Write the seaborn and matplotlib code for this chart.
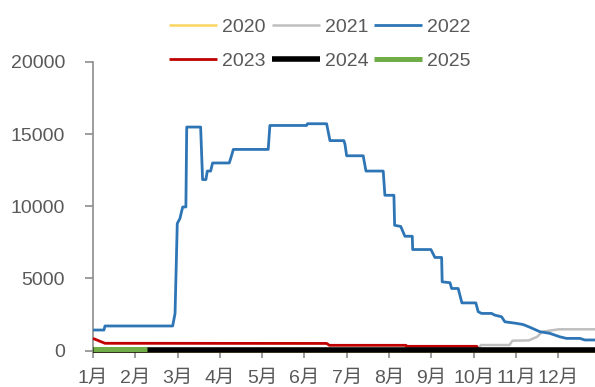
import matplotlib
matplotlib.use("Agg")
import matplotlib.pyplot as plt
import pandas as pd
import seaborn as sns

# x = day of year (0 = 1 Jan), y = value
DAYS_2020 = [0, 361]
VALS_2020 = [0, 0]

DAYS_2021 = [0, 276, 279, 299.5, 301.6, 313.4, 319.4, 323, 335, 361]
VALS_2021 = [0, 0, 380, 380, 680, 700, 950, 1300, 1470, 1470]

DAYS_2022 = [0, 7.9, 8.6, 57.3, 59, 60.6, 62.5, 64.5, 66.8, 67.4, 77.4, 78.8,
             81.2, 82.2, 84.6, 86, 98, 99.7, 100.9, 126, 127.2, 153.6, 154.2,
             168, 170.4, 180.4, 181.2, 182.4, 194.3, 196.3, 208.7, 209.9,
             216.4, 216.9, 221.3, 224.3, 229.6, 229.9, 243, 245.9, 250.7,
             251.1, 256.7, 257.9, 262.6, 265.3, 275.3, 277, 279.4, 286.6, 289,
             293.8, 296.2, 304.6, 309.3, 314.2, 321.4, 328.5, 335.7, 340.5,
             350.1, 353.7, 361]
VALS_2022 = [1420, 1420, 1700, 1700, 2570, 8800, 9150, 9950, 9950, 15490,
             15490, 11850, 11850, 12440, 12440, 13000, 13000, 13530, 13940,
             13940, 15600, 15600, 15720, 15720, 14550, 14550, 14300, 13500,
             13500, 12440, 12440, 10760, 10760, 8680, 8600, 7920, 7920, 7000,
             7000, 6450, 6450, 4760, 4700, 4300, 4300, 3300, 3300, 2690, 2570,
             2570, 2450, 2340, 1990, 1880, 1800, 1610, 1300, 1190, 950, 840,
             840, 730, 730]

DAYS_2023 = [0, 4, 8.6, 168, 170, 225, 225.6, 276, 277, 361]
VALS_2023 = [840, 680, 500, 490, 360, 360, 290, 290, 0, 0]

DAYS_2024 = [0, 361]
VALS_2024 = [60, 60]

DAYS_2025 = [0, 38.6]
VALS_2025 = [110, 110]

MONTH_LABELS = [f"{m}月" for m in range(1, 13)]

SERIES = [
    ("2020", DAYS_2020, VALS_2020, "#F9D461", 1.8),
    ("2021", DAYS_2021, VALS_2021, "#BFBFBF", 1.8),
    ("2022", DAYS_2022, VALS_2022, "#2E75B6", 2.0),
    ("2023", DAYS_2023, VALS_2023, "#C00000", 2.0),
    ("2024", DAYS_2024, VALS_2024, "#000000", 4.0),
    ("2025", DAYS_2025, VALS_2025, "#70AD47", 3.6),
]

sns.set_style("white")
plt.rcParams["font.family"] = ["Liberation Sans", "Noto Sans CJK SC", "DejaVu Sans"]
TEXT = "#595959"
AXIS = "#8C8C8C"

fig = plt.figure(figsize=(5.95, 3.87), dpi=100)
ax = fig.add_axes([0.1563, 0.0943, 1.0 - 0.1563, 0.7455])

for name, days, vals, color, lw in SERIES:
    df = pd.DataFrame({"day": days, "value": vals})
    sns.lineplot(data=df, x="day", y="value", color=color, linewidth=lw,
                 label=name, ax=ax, estimator=None, sort=False,
                 solid_capstyle="butt", clip_on=False, zorder=3)

ax.set_xlim(0, 361)
ax.set_ylim(0, 20000)
ax.set_yticks(range(0, 20001, 5000))
ax.set_xticks([k * 365 / 12 for k in range(12)])
ax.set_xticklabels(MONTH_LABELS)
ax.set_xlabel("")
ax.set_ylabel("")

for side in ["top", "right"]:
    ax.spines[side].set_visible(False)
for side in ["left", "bottom"]:
    ax.spines[side].set_color(AXIS)
    ax.spines[side].set_linewidth(1.2)

ax.tick_params(axis="y", direction="out", length=6, width=1.2, color=AXIS,
               pad=14, labelsize=14, labelcolor=TEXT, left=True)
ax.tick_params(axis="x", direction="out", length=5, width=1.2, color=AXIS,
               pad=9, labelsize=14, labelcolor=TEXT, bottom=True)

# legend fills column by column, so reorder to read row by row
handles, labels = ax.get_legend_handles_labels()
order = [0, 3, 1, 4, 2, 5]
ax.get_legend().remove()
leg = fig.legend([handles[i] for i in order], [labels[i] for i in order],
                 loc="center", ncol=3,
                 bbox_to_anchor=(0.538, 0.886), bbox_transform=fig.transFigure,
                 frameon=False, fontsize=14, handlelength=2.47,
                 handletextpad=0.26, columnspacing=0.3, labelspacing=0.85,
                 borderpad=0)
for t in leg.get_texts():
    t.set_color(TEXT)

fig.savefig("out.png", dpi=100)
